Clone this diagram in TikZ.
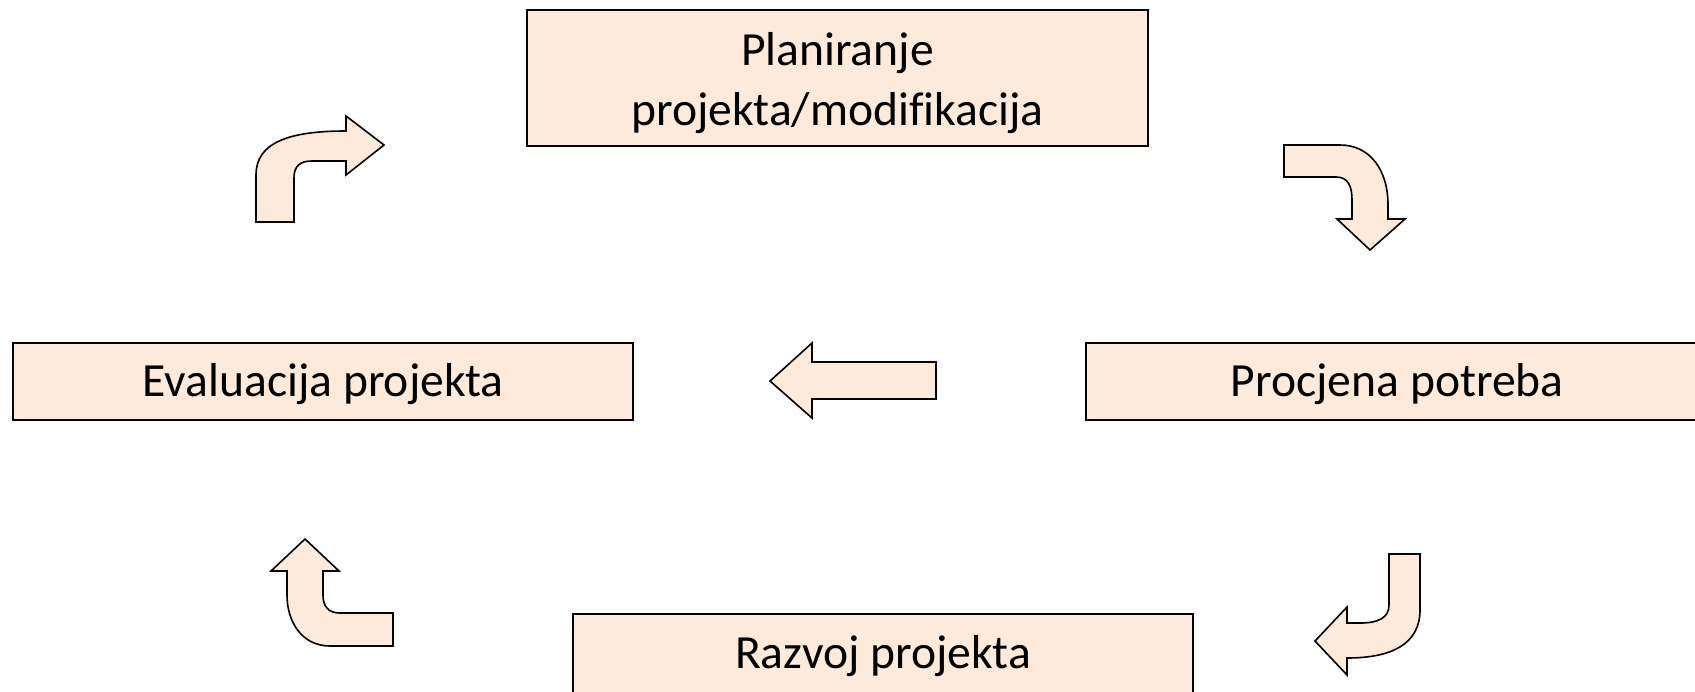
\documentclass[tikz,border=0pt]{standalone}
\usepackage{fontspec}
\setmainfont[Ligatures=NoCommon]{Carlito}
\definecolor{peach}{HTML}{FDEADA}
\tikzset{
  stagebox/.style={draw=black, line width=1pt, fill=peach, inner sep=0pt, align=center,
    font=\fontsize{23.8}{29.7}\selectfont},
  blockarrow/.style={draw=black, line width=0.8pt, fill=peach, line join=miter}
}
\begin{document}
\begin{tikzpicture}[x=0.5pt,y=-0.5pt]
\useasboundingbox (0,0) rectangle (1695,691);
\clip (0,0) rectangle (1695,691);
% boxes
\node[stagebox, minimum width=310.5pt, minimum height=68pt] (plan) at (837.5,78) {};
\node[font=\fontsize{23.8}{29.7}\selectfont, align=center, inner sep=0pt] (plantext) at (837.5,83) {Planiranje\\projekta/modifikacija};
\node[stagebox, minimum width=310.25pt, minimum height=38.75pt, text depth=0pt] (eval) at (323.2,381.6) {};
\node[font=\fontsize{23.8}{29.7}\selectfont, inner sep=0pt] (evaltext) at (323.2,384.5) {Evaluacija projekta};
\node[stagebox, minimum width=310.75pt, minimum height=38.75pt] (proc) at (1397.2,381.6) {};
\node[font=\fontsize{23.8}{29.7}\selectfont, inner sep=0pt] (proctext) at (1397.2,384.5) {Procjena potreba};
\node[stagebox, minimum width=310pt, minimum height=40pt] (razv) at (883,654) {};
\node[font=\fontsize{23.8}{29.7}\selectfont, inner sep=0pt] (razvtext) at (883,656.5) {Razvoj projekta};
% arrow: evaluation -> planning (up then right)
\draw[blockarrow] (256,222) -- (256,175) .. controls (256,142) and (290,131) .. (346,131)
  -- (346,116) -- (384,145) -- (346,175) -- (346,161) -- (312,161)
  .. controls (300,161) and (294,166) .. (294,178) -- (294,222) -- cycle;
% arrow: planning -> needs (right then down)
\draw[blockarrow] (1284,145) -- (1340,145) .. controls (1370,145) and (1388,170) .. (1388,205)
  -- (1388,219) -- (1405,219) -- (1370,250) -- (1337,219) -- (1352,219) -- (1352,200)
  .. controls (1352,186) and (1348,177) .. (1336,177) -- (1284,177) -- cycle;
% arrow: needs -> development (down then left)
\draw[blockarrow] (1420,554) -- (1420,610) .. controls (1420,645) and (1390,658) .. (1347,658)
  -- (1347,675) -- (1315,641) -- (1347,607) -- (1347,623) -- (1360,623)
  .. controls (1378,623) and (1389,618) .. (1389,605) -- (1389,554) -- cycle;
% arrow: development -> evaluation (left then up)
\draw[blockarrow] (393,646) -- (330,646) .. controls (302,646) and (287,622) .. (287,595)
  -- (287,571) -- (271,571) -- (305,539) -- (339,571) -- (323,571) -- (323,595)
  .. controls (323,606) and (328,613) .. (340,613) -- (393,613) -- cycle;
% arrow: needs -> evaluation (straight left)
\draw[blockarrow] (936,362) -- (812,362) -- (812,343) -- (770,381) -- (812,418) -- (812,399) -- (936,399) -- cycle;
\end{tikzpicture}
\end{document}
